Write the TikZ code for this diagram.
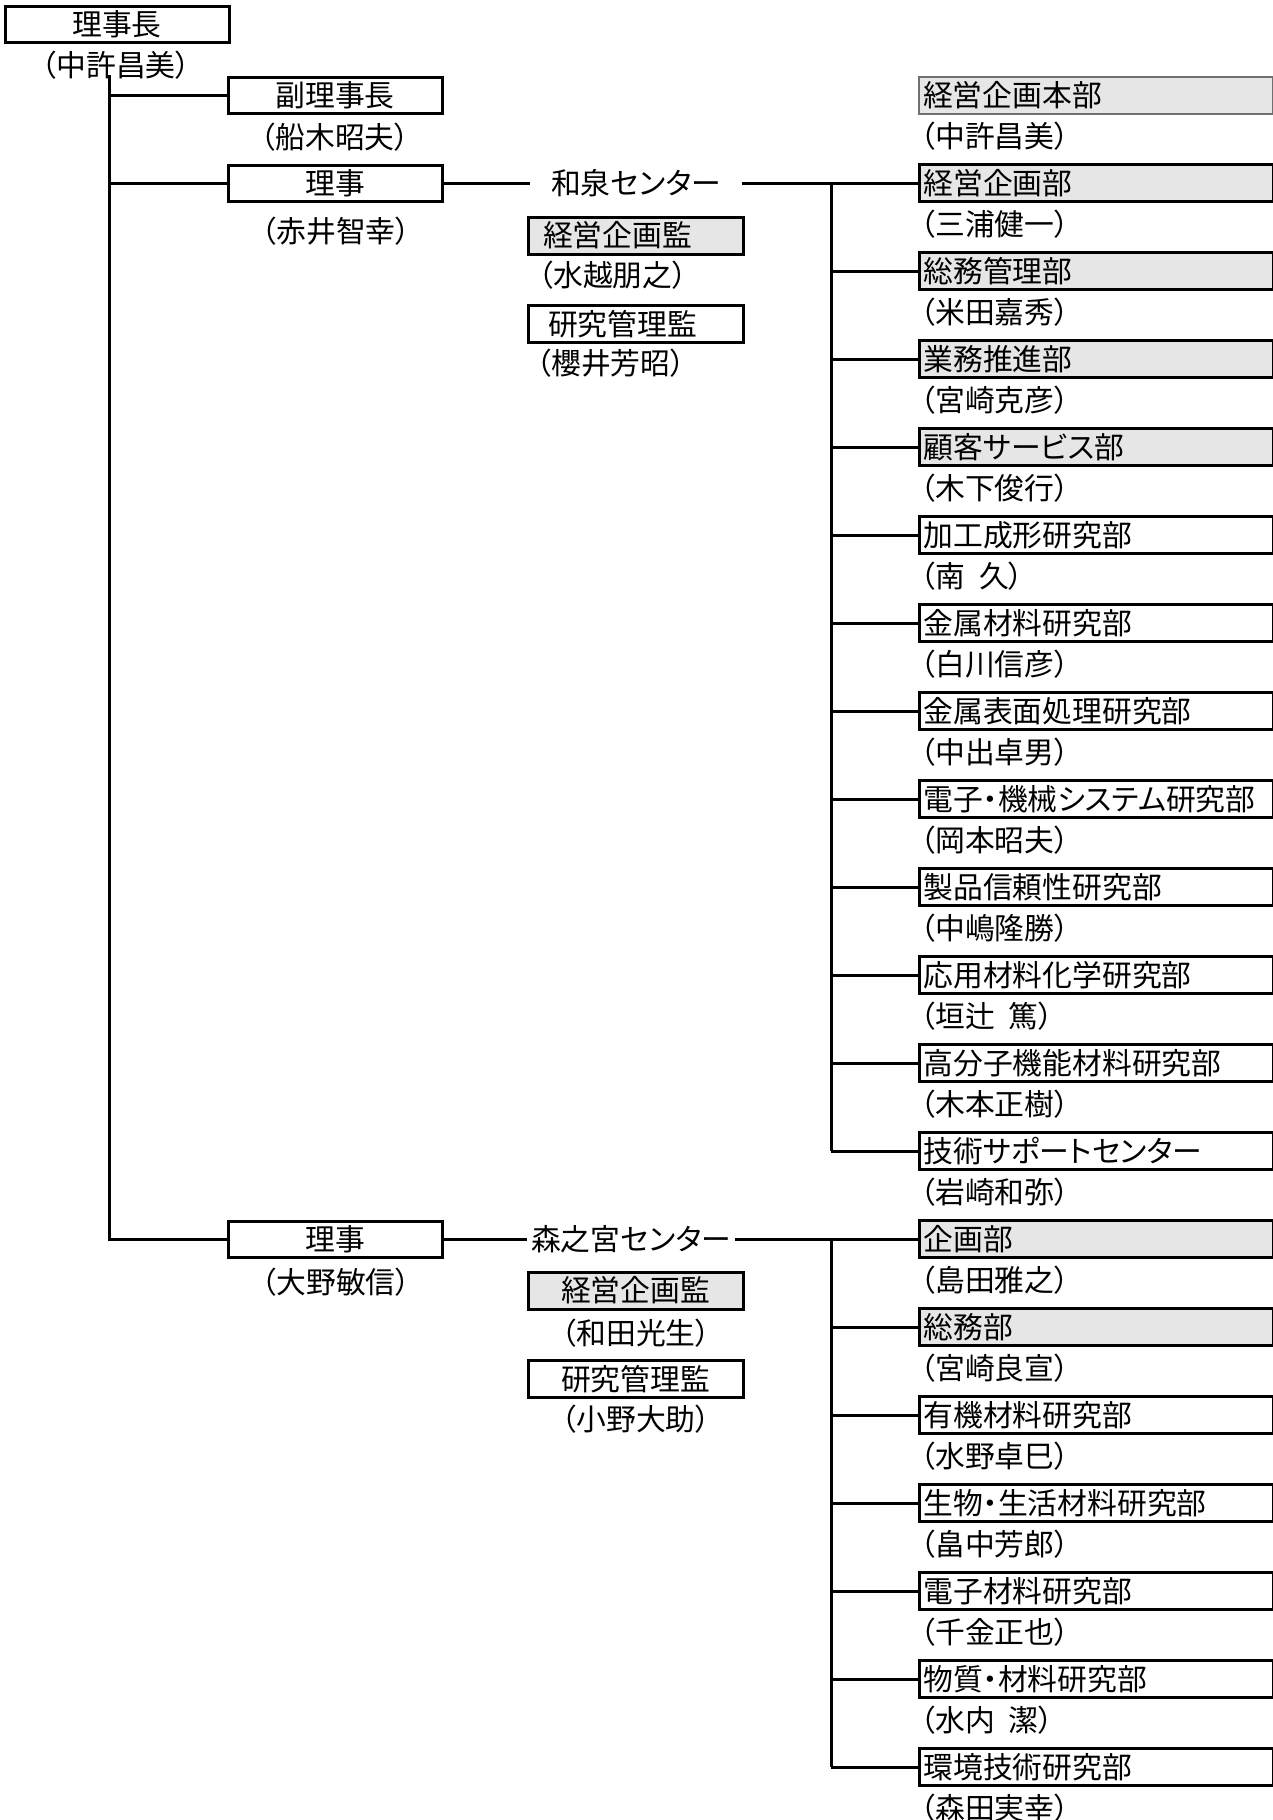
\documentclass[tikz,border=0pt]{standalone}
\usepackage{fontspec}
\setmainfont{Noto Sans CJK JP}[RawFeature={+palt}]
\definecolor{boxgray}{HTML}{E6E6E6}
\definecolor{edgegray}{HTML}{707070}
\begin{document}
\begin{tikzpicture}[x=0.5pt,y=-0.5pt,
  every node/.style={font=\fontsize{14.9pt}{17pt}\selectfont},
  conn/.style={line width=1.5pt},
  lbox/.style={draw, line width=1.5pt, minimum width=107pt, minimum height=18pt, inner sep=0pt},
  mbox/.style={draw, line width=1.5pt, minimum width=107.5pt, minimum height=18.5pt, inner ysep=0pt},
  rbox/.style={draw, line width=1.5pt, anchor=west, text width=173pt, align=left, inner xsep=2pt, inner ysep=0pt, minimum height=18.5pt},
  pname/.style={inner sep=0pt},
  rname/.style={inner sep=0pt, anchor=west},
  center/.style={inner sep=0pt, minimum height=18pt}
]
\useasboundingbox (0,0) rectangle (1273,1820);

% left column
\node[lbox, minimum width=112pt] (chair) at (117,24) {理事長};
\node[pname] (chairN) at (116,65) {（中許昌美）};
\node[lbox] (vice) at (335,95) {副理事長};
\node[pname] (viceN) at (335,137) {（船木昭夫）};
\node[lbox] (ri1) at (335,183) {理事};
\node[pname] (ri1N) at (336,231) {（赤井智幸）};
\node[lbox] (ri2) at (335,1239) {理事};
\node[pname] (ri2N) at (336,1282) {（大野敏信）};

\coordinate (sp) at (109,75);
\draw[conn] (sp) |- (ri2.west);
\draw[conn] (sp |- vice.west) -- (vice.west);
\draw[conn] (sp |- ri1.west) -- (ri1.west);

% Izumi center
\node[center, minimum width=106pt] (izumi) at (636,183) {和泉センター};
\node[mbox, fill=boxgray, text width=92.5pt, align=left, inner xsep=7.5pt] (kk1) at (635.5,235.5) {経営企画監};
\node[rname] (kk1N) at (538,275) {（水越朋之）};
\node[mbox, text width=87.5pt, align=left, inner xsep=10pt] (kr1) at (635.5,324) {研究管理監};
\node[rname] (kr1N) at (536,363) {（櫻井芳昭）};
\draw[conn] (ri1.east) -- (izumi.west);

% Morinomiya center
\node[center, minimum width=104pt] (mori) at (631,1239) {森之宮センター};
\node[mbox, fill=boxgray, inner xsep=0pt] (kk2) at (635.5,1290.5) {経営企画監};
\node[pname] (kk2N) at (636,1333) {（和田光生）};
\node[mbox, inner xsep=0pt] (kr2) at (635.5,1379) {研究管理監};
\node[pname] (kr2N) at (636,1419) {（小野大助）};
\draw[conn] (ri2.east) -- (mori.west);

% right column
\node[rbox, fill=boxgray, draw=edgegray, line width=1pt] (hq) at (918,95) {経営企画本部};
\node[rname] (hqN) at (920,136) {（中許昌美）};

\coordinate (bus1) at (831,183);
\foreach \t/\n/\f [count=\i from 0] in {
  経営企画部/三浦健一/boxgray,
  総務管理部/米田嘉秀/boxgray,
  業務推進部/宮崎克彦/boxgray,
  顧客サービス部/木下俊行/boxgray,
  加工成形研究部/{南\hspace{7pt}久}/white,
  金属材料研究部/白川信彦/white,
  金属表面処理研究部/中出卓男/white,
  電子・機械システム研究部/岡本昭夫/white,
  製品信頼性研究部/中嶋隆勝/white,
  応用材料化学研究部/{垣辻\hspace{7pt}篤}/white,
  高分子機能材料研究部/木本正樹/white,
  技術サポートセンター/岩崎和弥/white} {
  \node[rbox, fill=\f] (d\i) at (918,{183+88*\i}) {\t};
  \node[rname] (dn\i) at (920,{224+88*\i}) {（\n）};
  \draw[conn] (bus1 |- d\i.west) -- (d\i.west);
}
\draw[conn] (izumi.east) -- (d0.west);
\draw[conn] (bus1) -- (bus1 |- d11.west);

\coordinate (bus2) at (831,1239);
\foreach \t/\n/\f [count=\i from 0] in {
  企画部/島田雅之/boxgray,
  総務部/宮崎良宣/boxgray,
  有機材料研究部/水野卓巳/white,
  生物・生活材料研究部/畠中芳郎/white,
  電子材料研究部/千金正也/white,
  物質・材料研究部/{水内\hspace{7pt}潔}/white,
  環境技術研究部/森田実幸/white} {
  \node[rbox, fill=\f] (e\i) at (918,{1239+88*\i}) {\t};
  \node[rname] (en\i) at (920,{1280+88*\i}) {（\n）};
  \draw[conn] (bus2 |- e\i.west) -- (e\i.west);
}
\draw[conn] (mori.east) -- (e0.west);
\draw[conn] (bus2) -- (bus2 |- e6.west);
\end{tikzpicture}
\end{document}
